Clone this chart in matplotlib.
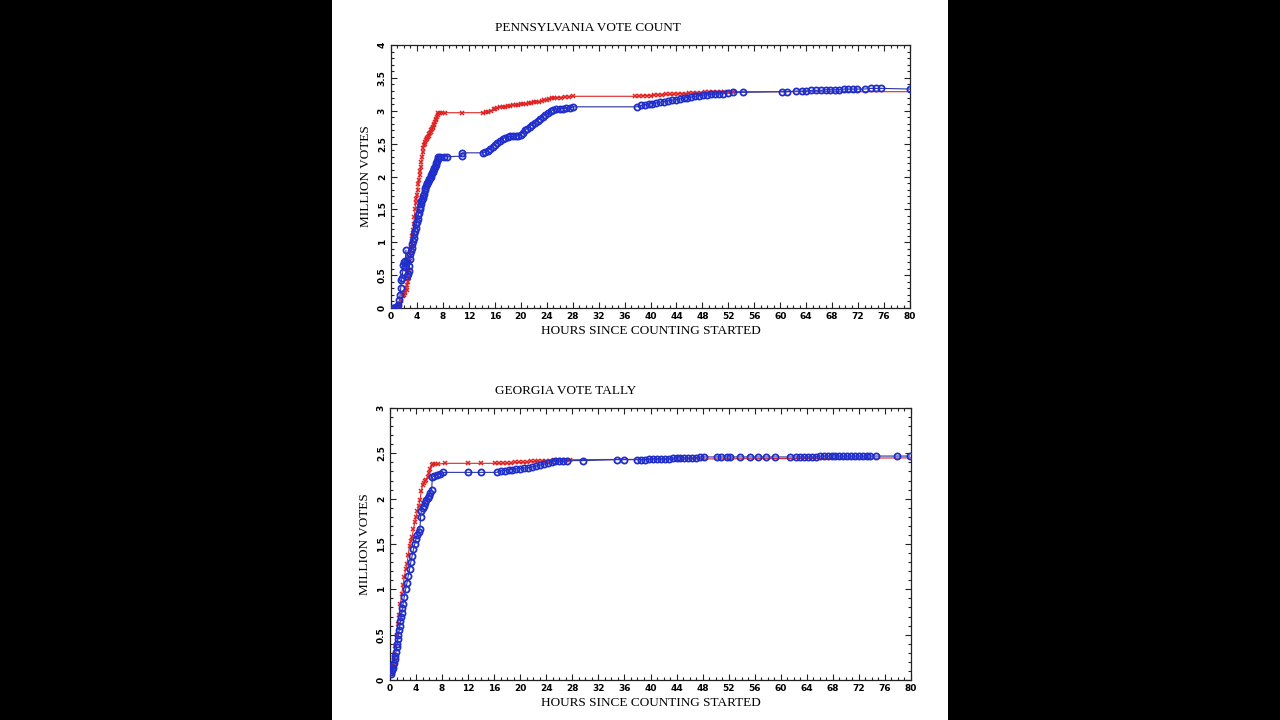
import matplotlib
matplotlib.use("Agg")
import matplotlib.pyplot as plt
from matplotlib.patches import Rectangle
from matplotlib.ticker import MultipleLocator

# ---------------- data (hours since counting started, million votes) ----------------
pa_red_hours = [1.0, 1.3, 1.6, 1.8, 1.9, 2.0, 2.1, 2.2, 2.3, 2.4,
                2.5, 2.6, 2.7, 2.8, 2.9, 3.0, 3.1, 3.2, 3.3, 3.4,
                3.5, 3.6, 3.7, 3.8, 3.9, 4.0, 4.1, 4.2, 4.3, 4.4,
                4.5, 4.6, 4.7, 4.8, 4.9, 5.0, 5.1, 5.2, 5.3, 5.4,
                5.5, 5.6, 5.7, 5.8, 5.9, 6.0, 6.1, 6.2, 6.3, 6.4,
                6.5, 6.6, 6.7, 6.8, 6.9, 7.0, 7.1, 7.2, 7.3, 7.5,
                7.8, 8.3, 10.9, 14.2, 14.6, 15.0, 15.4, 15.8, 16.1, 16.4,
                16.8, 17.2, 17.6, 18.0, 18.4, 18.8, 19.2, 19.6, 20.0, 20.4,
                20.8, 21.2, 21.6, 22.0, 22.4, 22.8, 23.2, 23.6, 24.0, 24.4,
                24.8, 25.2, 25.6, 26.2, 26.8, 27.4, 28.0, 37.6, 38.2, 38.8,
                39.4, 40.0, 40.6, 41.2, 41.8, 42.4, 43.0, 43.6, 44.2, 44.8,
                45.4, 46.0, 46.6, 47.2, 47.8, 48.4, 49.0, 49.6, 50.2, 50.8,
                51.4, 52.0, 52.7, 80.0]
pa_red_votes = [0.01, 0.03, 0.10, 0.18, 0.22, 0.20, 0.25, 0.23, 0.30, 0.28,
                0.35, 0.40, 0.45, 0.58, 0.72, 0.82, 0.92, 1.02, 1.10, 1.18,
                1.28, 1.38, 1.50, 1.60, 1.66, 1.72, 1.80, 1.88, 1.95, 2.02,
                2.08, 2.15, 2.22, 2.30, 2.38, 2.44, 2.48, 2.50, 2.53, 2.55,
                2.57, 2.59, 2.60, 2.62, 2.64, 2.66, 2.68, 2.70, 2.72, 2.74,
                2.76, 2.78, 2.80, 2.83, 2.86, 2.88, 2.91, 2.94, 2.96, 2.97,
                2.97, 2.97, 2.97, 2.97, 2.98, 2.98, 2.99, 3.02, 3.03, 3.04,
                3.05, 3.06, 3.06, 3.07, 3.07, 3.08, 3.08, 3.09, 3.10, 3.10,
                3.11, 3.12, 3.12, 3.13, 3.14, 3.14, 3.15, 3.16, 3.17, 3.18,
                3.19, 3.20, 3.20, 3.20, 3.21, 3.21, 3.22, 3.22, 3.22, 3.23,
                3.23, 3.23, 3.24, 3.24, 3.24, 3.25, 3.25, 3.25, 3.26, 3.26,
                3.26, 3.27, 3.27, 3.27, 3.27, 3.28, 3.28, 3.28, 3.28, 3.28,
                3.28, 3.28, 3.29, 3.29]

pa_blue_hours = [0.3, 0.5, 0.7, 0.9, 1.1, 1.3, 1.4, 1.5, 1.6, 1.7,
                 1.8, 1.9, 2.0, 2.1, 2.2, 2.3, 2.4, 2.5, 2.6, 2.7,
                 2.8, 2.9, 3.0, 3.1, 3.2, 3.3, 3.4, 3.5, 3.6, 3.7,
                 3.8, 3.9, 4.0, 4.1, 4.2, 4.3, 4.4, 4.5, 4.6, 4.7,
                 4.8, 4.9, 5.0, 5.1, 5.2, 5.3, 5.4, 5.5, 5.6, 5.7,
                 5.8, 5.9, 6.0, 6.1, 6.2, 6.3, 6.4, 6.5, 6.6, 6.7,
                 6.8, 6.9, 7.0, 7.1, 7.2, 7.3, 7.6, 8.1, 8.6, 10.9,
                 11.0, 14.2, 14.5, 14.9, 15.3, 15.7, 16.0, 16.4, 16.8, 17.2,
                 17.6, 18.0, 18.4, 18.8, 19.2, 19.6, 20.0, 20.3, 20.6, 21.0,
                 21.4, 21.8, 22.2, 22.6, 23.0, 23.4, 23.8, 24.2, 24.6, 25.0,
                 25.5, 26.0, 26.5, 27.0, 27.6, 28.0, 37.9, 38.5, 39.1, 39.7,
                 40.3, 40.9, 41.5, 42.1, 42.7, 43.3, 43.9, 44.5, 45.1, 45.7,
                 46.3, 46.9, 47.5, 48.1, 48.7, 49.3, 49.9, 50.5, 51.2, 52.0,
                 52.7, 54.3, 60.2, 61.0, 62.5, 63.3, 64.0, 64.8, 65.5, 66.3,
                 67.0, 67.7, 68.4, 69.1, 69.8, 70.5, 71.2, 71.9, 73.0, 74.0,
                 74.8, 75.6, 80.0]
pa_blue_votes = [0.00, 0.00, 0.01, 0.02, 0.05, 0.12, 0.20, 0.30, 0.42, 0.46,
                 0.55, 0.66, 0.70, 0.62, 0.72, 0.88, 0.70, 0.48, 0.52, 0.56,
                 0.64, 0.74, 0.82, 0.87, 0.92, 0.97, 1.02, 1.07, 1.12, 1.17,
                 1.22, 1.27, 1.31, 1.36, 1.41, 1.45, 1.50, 1.54, 1.58, 1.62,
                 1.64, 1.67, 1.70, 1.74, 1.79, 1.83, 1.86, 1.88, 1.90, 1.92,
                 1.94, 1.96, 1.98, 2.00, 2.02, 2.05, 2.07, 2.09, 2.11, 2.13,
                 2.15, 2.17, 2.20, 2.23, 2.26, 2.29, 2.29, 2.30, 2.30, 2.31,
                 2.36, 2.36, 2.37, 2.39, 2.42, 2.45, 2.48, 2.51, 2.54, 2.57,
                 2.59, 2.60, 2.61, 2.61, 2.62, 2.62, 2.63, 2.66, 2.70, 2.73,
                 2.76, 2.79, 2.82, 2.85, 2.88, 2.91, 2.93, 2.96, 2.99, 3.01,
                 3.02, 3.03, 3.03, 3.04, 3.04, 3.06, 3.06, 3.08, 3.09, 3.10,
                 3.11, 3.12, 3.13, 3.14, 3.15, 3.16, 3.17, 3.18, 3.19, 3.20,
                 3.21, 3.22, 3.23, 3.24, 3.24, 3.25, 3.25, 3.26, 3.26, 3.27,
                 3.28, 3.28, 3.29, 3.29, 3.30, 3.30, 3.30, 3.31, 3.31, 3.31,
                 3.32, 3.32, 3.32, 3.32, 3.33, 3.33, 3.33, 3.33, 3.33, 3.34,
                 3.34, 3.34, 3.33]

ga_red_hours = [0.2, 0.4, 0.6, 0.8, 1.0, 1.2, 1.4, 1.6, 1.8, 2.0,
                2.2, 2.4, 2.6, 2.8, 3.0, 3.2, 3.4, 3.6, 3.8, 4.0,
                4.2, 4.4, 4.6, 4.8, 5.0, 5.2, 5.4, 5.6, 5.8, 6.0,
                6.2, 6.4, 6.6, 6.9, 7.3, 8.4, 12.0, 14.0, 16.1, 16.8,
                17.4, 18.0, 18.6, 19.2, 19.8, 20.4, 21.0, 21.6, 22.2, 22.8,
                23.4, 24.0, 24.6, 25.2, 25.8, 26.4, 27.0, 27.6, 80.0]
ga_red_votes = [0.08, 0.15, 0.25, 0.38, 0.50, 0.62, 0.72, 0.84, 0.95, 1.05,
                1.14, 1.22, 1.28, 1.38, 1.48, 1.53, 1.58, 1.66, 1.74, 1.80,
                1.86, 1.92, 1.98, 2.08, 2.15, 2.17, 2.19, 2.21, 2.24, 2.28,
                2.33, 2.37, 2.38, 2.38, 2.38, 2.39, 2.39, 2.39, 2.39, 2.39,
                2.39, 2.39, 2.39, 2.40, 2.40, 2.40, 2.40, 2.41, 2.41, 2.41,
                2.42, 2.42, 2.42, 2.43, 2.43, 2.43, 2.43, 2.43, 2.45]

ga_blue_hours = [0.1, 0.2, 0.3, 0.4, 0.5, 0.6, 0.7, 0.8, 0.9, 1.0,
                 1.1, 1.2, 1.3, 1.4, 1.5, 1.6, 1.7, 1.8, 1.9, 2.0,
                 2.2, 2.4, 2.6, 2.8, 3.0, 3.2, 3.4, 3.6, 3.8, 4.0,
                 4.2, 4.4, 4.6, 4.7, 4.8, 5.0, 5.2, 5.4, 5.6, 5.8,
                 6.0, 6.2, 6.4, 6.5, 6.8, 7.2, 7.7, 8.2, 12.0, 14.0,
                 16.4, 17.0, 17.6, 18.2, 18.8, 19.4, 20.0, 20.6, 21.2, 21.8,
                 22.4, 23.0, 23.6, 24.2, 24.8, 25.4, 26.0, 26.6, 27.2, 29.7,
                 34.8, 36.0, 38.0, 38.6, 39.2, 39.8, 40.4, 41.0, 41.6, 42.2,
                 42.8, 43.4, 44.0, 44.6, 45.2, 45.8, 46.4, 47.0, 47.6, 48.2,
                 50.2, 50.9, 51.7, 52.2, 53.7, 55.3, 56.5, 57.8, 59.1, 61.4,
                 62.4, 63.0, 63.6, 64.2, 64.8, 65.4, 66.0, 66.6, 67.2, 67.8,
                 68.4, 69.0, 69.6, 70.2, 70.8, 71.4, 72.0, 72.6, 73.2, 73.7,
                 74.7, 77.8, 79.8]
ga_blue_votes = [0.07, 0.09, 0.11, 0.13, 0.16, 0.19, 0.23, 0.27, 0.31, 0.36,
                 0.40, 0.45, 0.50, 0.55, 0.60, 0.65, 0.70, 0.74, 0.79, 0.84,
                 0.92, 1.00, 1.07, 1.15, 1.22, 1.30, 1.37, 1.44, 1.50, 1.56,
                 1.60, 1.63, 1.67, 1.80, 1.86, 1.90, 1.92, 1.95, 1.98, 2.01,
                 2.03, 2.06, 2.10, 2.24, 2.25, 2.26, 2.27, 2.29, 2.29, 2.29,
                 2.29, 2.31, 2.31, 2.32, 2.32, 2.33, 2.33, 2.34, 2.34, 2.35,
                 2.36, 2.37, 2.38, 2.39, 2.40, 2.41, 2.41, 2.41, 2.42, 2.42,
                 2.43, 2.43, 2.43, 2.43, 2.43, 2.44, 2.44, 2.44, 2.44, 2.44,
                 2.44, 2.45, 2.45, 2.45, 2.45, 2.45, 2.45, 2.45, 2.46, 2.46,
                 2.46, 2.46, 2.46, 2.46, 2.46, 2.46, 2.46, 2.46, 2.46, 2.46,
                 2.46, 2.46, 2.46, 2.46, 2.46, 2.46, 2.47, 2.47, 2.47, 2.47,
                 2.47, 2.47, 2.47, 2.47, 2.47, 2.47, 2.47, 2.47, 2.47, 2.47,
                 2.47, 2.47, 2.47]

x_ticks = list(range(0, 81, 4))
pa_y_ticks = [0, 0.5, 1, 1.5, 2, 2.5, 3, 3.5, 4]
ga_y_ticks = [0, 0.5, 1, 1.5, 2, 2.5, 3]

titles = ["PENNSYLVANIA VOTE COUNT", "GEORGIA VOTE TALLY"]
xlabel = "HOURS SINCE COUNTING STARTED"
ylabel = "MILLION VOTES"

# ---------------- styling ----------------
RED = "#e02424"
BLUE_M = "#1f2ecc"
BLUE_L = "#2a3499"
SERIF = ["Liberation Serif", "DejaVu Serif"]
TICKFONT = dict(family="DejaVu Sans", weight="bold", size=6.5)

W, H = 1280, 720
fig = plt.figure(figsize=(W / 100, H / 100), dpi=100)
fig.patch.set_facecolor("black")
fig.add_artist(Rectangle((332 / W, 0), (948 - 332) / W, 1, transform=fig.transFigure,
                         facecolor="white", edgecolor="none", zorder=0))


def make_axes(rect, ylim, yticks, title, title_y, red, blue):
    ax = fig.add_axes(rect)
    ax.set_facecolor("white")
    ax.set_xlim(0, 80)
    ax.set_ylim(*ylim)
    ax.set_xticks(x_ticks)
    ax.set_xticklabels([str(t) for t in x_ticks], fontdict=TICKFONT)
    ax.set_yticks(yticks)
    ax.set_yticklabels([f"{t:g}" for t in yticks], fontdict=TICKFONT,
                       rotation=90, va="center")
    ax.xaxis.set_minor_locator(MultipleLocator(1))
    ax.yaxis.set_minor_locator(MultipleLocator(0.1))
    ax.tick_params(which="both", direction="in", top=True, right=True,
                   color="#222222", width=0.8)
    ax.tick_params(which="major", length=4, pad=3)
    ax.tick_params(which="minor", length=2)
    for s in ax.spines.values():
        s.set_linewidth(0.9)
        s.set_color("#222222")

    rh, rv = red
    bh, bv = blue
    ax.plot(rh, rv, color=RED, lw=0.8, zorder=2)
    ax.plot(rh[:-1], rv[:-1], ls="none", marker="x", ms=3.4, mew=1.1,
            color=RED, zorder=3)
    ax.plot(bh, bv, color=BLUE_L, lw=0.8, zorder=2)
    ax.plot(bh, bv, ls="none", marker="o", ms=4.4, mew=1.3,
            mfc="none", mec=BLUE_M, zorder=4, clip_on=True)

    ax.set_xlabel(xlabel, family=SERIF, fontsize=9.5, labelpad=3)
    ax.set_ylabel(ylabel, family=SERIF, fontsize=9.5, labelpad=4)
    fig.text(495 / W, 1 - title_y / H, title, family=SERIF, fontsize=9.5,
             ha="left", va="center")
    return ax


make_axes([391 / W, 1 - 308 / H, (910 - 391) / W, (308 - 45) / H], (0, 4),
          pa_y_ticks, titles[0], 28, (pa_red_hours, pa_red_votes),
          (pa_blue_hours, pa_blue_votes))
make_axes([390 / W, 1 - 680 / H, (911 - 390) / W, (680 - 408) / H], (0, 3),
          ga_y_ticks, titles[1], 391, (ga_red_hours, ga_red_votes),
          (ga_blue_hours, ga_blue_votes))

fig.savefig("out.png", dpi=100, facecolor=fig.get_facecolor())
